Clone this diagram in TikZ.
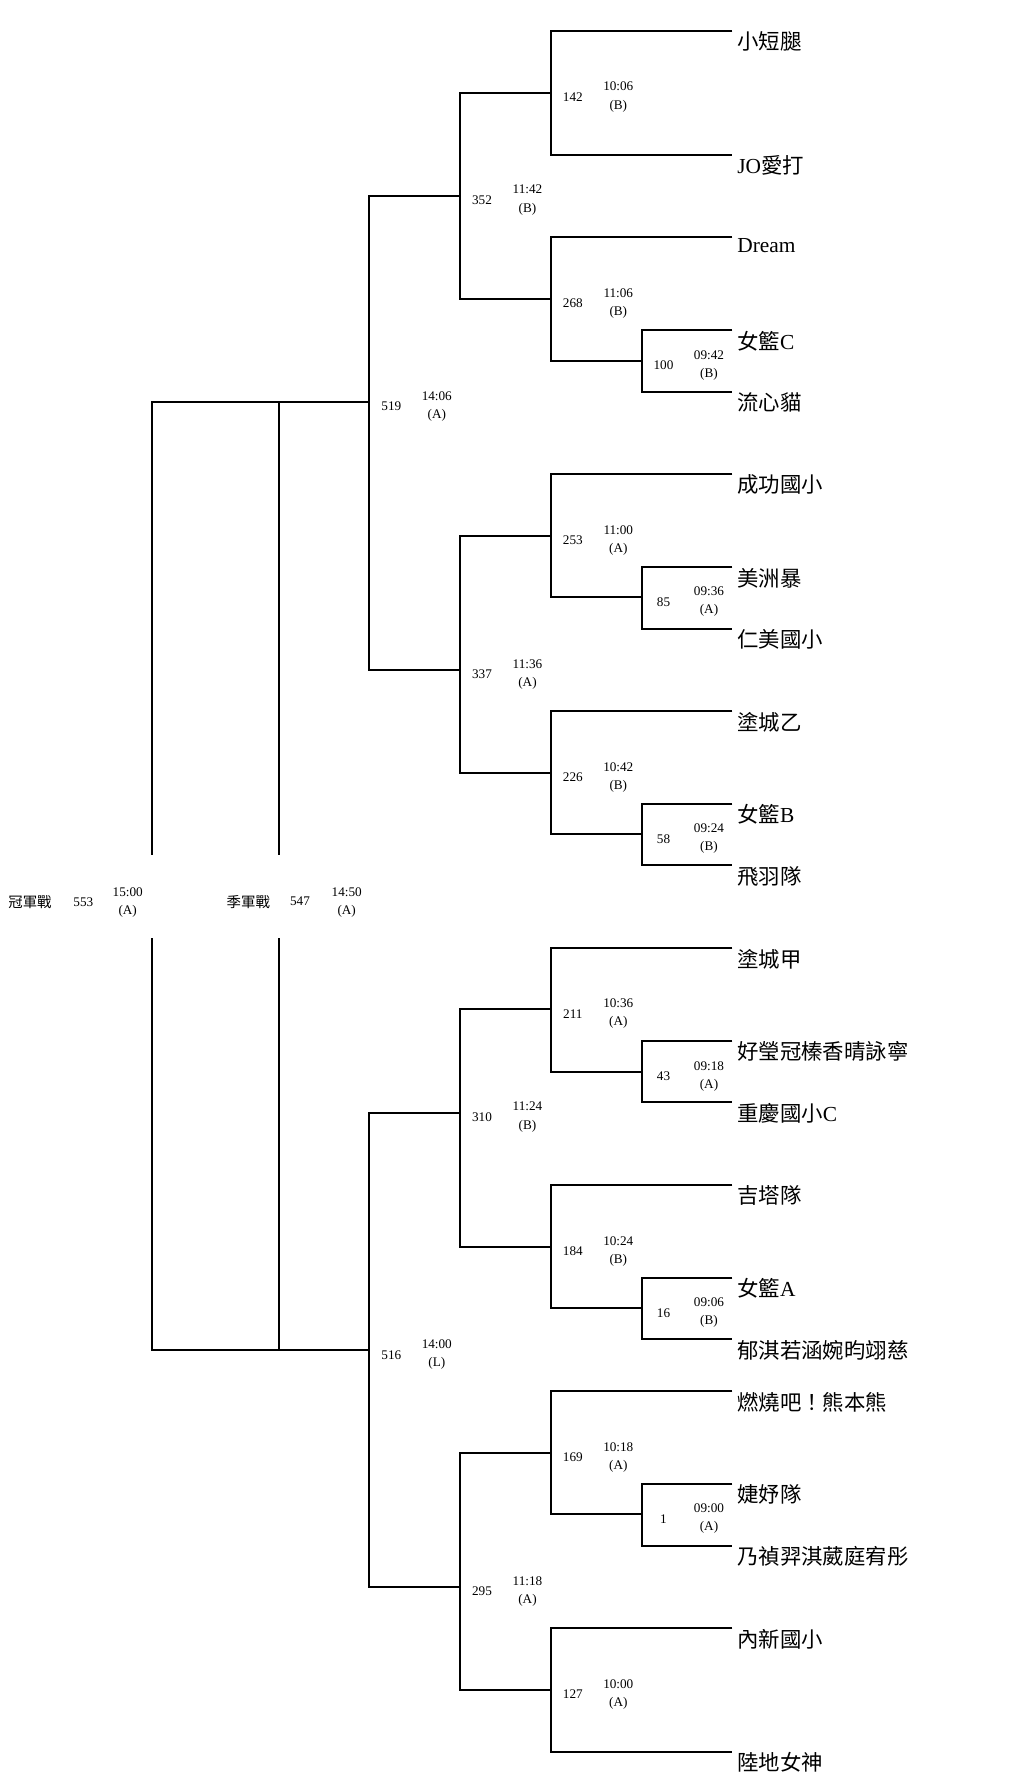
\documentclass[tikz,border=0pt]{standalone}
\usepackage{fontspec}
\setmainfont{Liberation Serif}
\newfontfamily\zh{Noto Sans CJK TC}

\begin{document}
\begin{tikzpicture}[x=0.5pt, y=-0.5pt, line width=1pt,
  team/.style={anchor=north west, inner xsep=2pt, inner ysep=0pt, font=\fontsize{10.7}{12}\selectfont},
  lbl/.style={inner sep=0pt, font=\fontsize{6.6}{8}\selectfont},
  zhlbl/.style={inner sep=0pt, font=\zh\fontsize{7.2}{8}\selectfont}]

  \useasboundingbox (0,0) rectangle (1024,1773);

  \newcommand\Team[3]{\node[team] (#1) at (732.3,#2) {#3};}
  % name, x, y, game, time, court
  \newcommand\Game[6]{%
    \coordinate (#1) at (#2,#3);
    \node[lbl] (#1n) at (#2+22,#3+4.5) {#4};
    \node[lbl] (#1t) at (#2+67.5,#3-6) {#5};
    \node[lbl] (#1c) at (#2+67.5,#3+13.5) {(#6)};}

  \Team{t1}{31}{\zh 小短腿}
  \Team{t2}{154.7}{JO{\zh 愛打}}
  \Team{t3}{237.3}{Dream}
  \Team{t4}{330}{{\zh 女籃}C}
  \Team{t5}{391.7}{\zh 流心貓}
  \Team{t6}{474}{\zh 成功國小}
  \Team{t7}{567}{\zh 美洲暴}
  \Team{t8}{628.7}{\zh 仁美國小}
  \Team{t9}{711}{\zh 塗城乙}
  \Team{t10}{803.7}{{\zh 女籃}B}
  \Team{t11}{865.3}{\zh 飛羽隊}
  \Team{t12}{948.3}{\zh 塗城甲}
  \Team{t13}{1040.7}{\zh 好瑩冠榛香晴詠寧}
  \Team{t14}{1102.3}{{\zh 重慶國小}C}
  \Team{t15}{1185}{\zh 吉塔隊}
  \Team{t16}{1277.7}{{\zh 女籃}A}
  \Team{t17}{1339.3}{\zh 郁淇若涵婉昀翊慈}
  \Team{t18}{1391}{\zh 燃燒吧！熊本熊}
  \Team{t19}{1484}{\zh 婕妤隊}
  \Team{t20}{1545.7}{\zh 乃禎羿淇葳庭宥彤}
  \Team{t21}{1628.3}{\zh 內新國小}
  \Team{t22}{1751.7}{\zh 陸地女神}

  \Game{m100}{641.5}{360.7}{100}{09:42}{B}
  \Game{m85}{641.5}{597.3}{85}{09:36}{A}
  \Game{m58}{641.5}{834.3}{58}{09:24}{B}
  \Game{m43}{641.5}{1071.7}{43}{09:18}{A}
  \Game{m16}{641.5}{1308.3}{16}{09:06}{B}
  \Game{m1}{641.5}{1514.3}{1}{09:00}{A}
  \Game{m142}{550.8}{92.7}{142}{10:06}{B}
  \Game{m268}{550.8}{298.7}{268}{11:06}{B}
  \Game{m253}{550.8}{536}{253}{11:00}{A}
  \Game{m226}{550.8}{772.7}{226}{10:42}{B}
  \Game{m211}{550.8}{1009.3}{211}{10:36}{A}
  \Game{m184}{550.8}{1246.7}{184}{10:24}{B}
  \Game{m169}{550.8}{1453}{169}{10:18}{A}
  \Game{m127}{550.8}{1690}{127}{10:00}{A}
  \Game{m352}{460}{195.7}{352}{11:42}{B}
  \Game{m337}{460}{670}{337}{11:36}{A}
  \Game{m310}{460}{1112.7}{310}{11:24}{B}
  \Game{m295}{460}{1586.7}{295}{11:18}{A}
  \Game{m519}{369.3}{401.7}{519}{14:06}{A}
  \Game{m516}{369.3}{1350.3}{516}{14:00}{L}

  % first round
  \draw (t4.north west) -| (m100) |- (t5.north west);
  \draw (t7.north west) -| (m85) |- (t8.north west);
  \draw (t10.north west) -| (m58) |- (t11.north west);
  \draw (t13.north west) -| (m43) |- (t14.north west);
  \draw (t16.north west) -| (m16) |- (t17.north west);
  \draw (t19.north west) -| (m1) |- (t20.north west);
  % second round
  \draw (t1.north west) -| (m142) |- (t2.north west);
  \draw (t3.north west) -| (m268) |- (m100);
  \draw (t6.north west) -| (m253) |- (m85);
  \draw (t9.north west) -| (m226) |- (m58);
  \draw (t12.north west) -| (m211) |- (m43);
  \draw (t15.north west) -| (m184) |- (m16);
  \draw (t18.north west) -| (m169) |- (m1);
  \draw (t21.north west) -| (m127) |- (t22.north west);
  % quarter and semi finals
  \draw (m142) -| (m352) |- (m268);
  \draw (m253) -| (m337) |- (m226);
  \draw (m211) -| (m310) |- (m184);
  \draw (m169) -| (m295) |- (m127);
  \draw (m352) -| (m519) |- (m337);
  \draw (m310) -| (m516) |- (m295);

  % final and third place
  \coordinate (f1) at (151.5,855);
  \coordinate (f2) at (151.5,938.3);
  \coordinate (s1) at (278.5,855);
  \coordinate (s2) at (278.5,938.3);
  \draw (m519) -| (f1); %% 519 -> 553
  \draw (m516) -| (f2); %% 516 -> 553
  \draw (m519 -| s1) -- (s1); %% 519 -> 547
  \draw (m516 -| s2) -- (s2); %% 516 -> 547

  \node[zhlbl] (g553) at (30,901.7) {冠軍戰};
  \node[lbl] (g553n) at (83.3,901.7) {553};
  \node[lbl] (g553t) at (127.7,891.7) {15:00};
  \node[lbl] (g553c) at (127.7,911) {(A)};
  \node[zhlbl] (g547) at (248.3,901.7) {季軍戰};
  \node[lbl] (g547n) at (300,901.7) {547};
  \node[lbl] (g547t) at (346.7,891.7) {14:50};
  \node[lbl] (g547c) at (346.7,911) {(A)};
\end{tikzpicture}
\end{document}
